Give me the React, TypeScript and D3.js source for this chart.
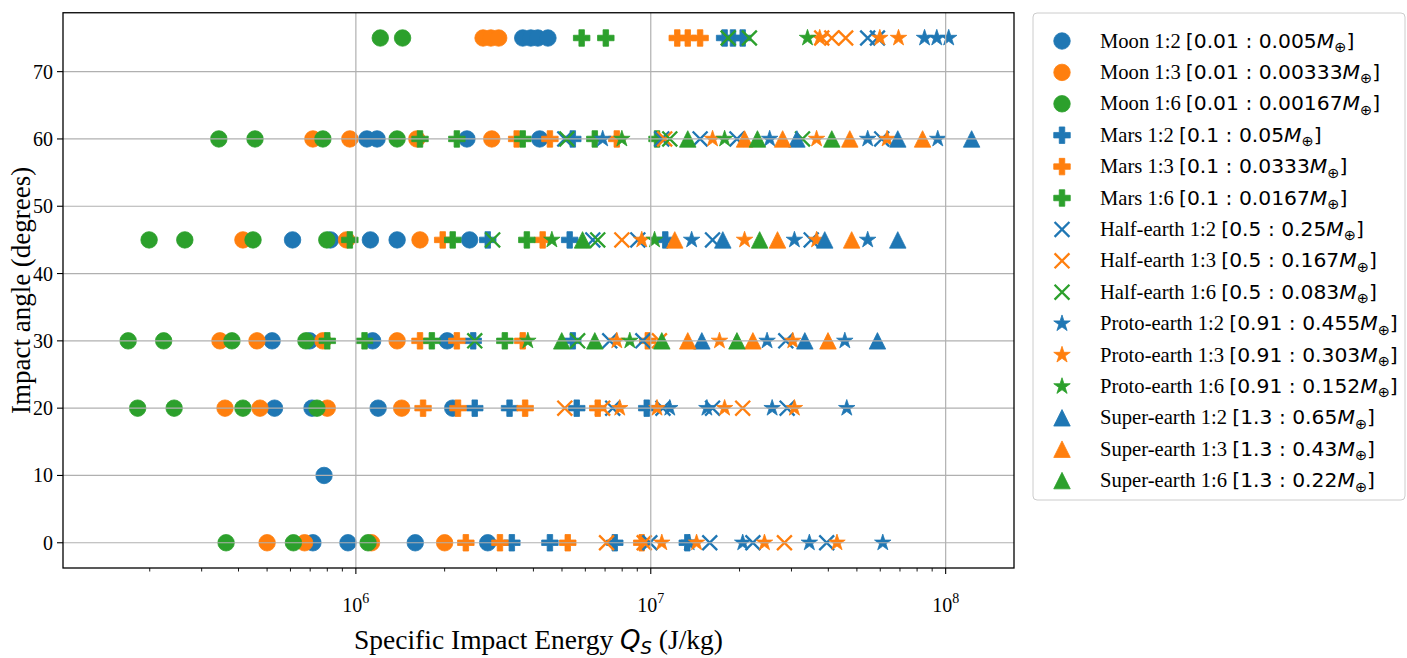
import React from "react";
import * as d3 from "d3";

const W = 1407;
const H = 658;
const frame = { left: 63, right: 1014, top: 12.75, bottom: 568 };

// Impact angle (degrees) and specific impact energy Q_S (J/kg) per run
const moon12: [number, number][] = [
  [0, 7.15e5], [0, 9.4e5], [0, 1.59e6], [0, 2.8e6],
  [10, 7.8e5],
  [20, 5.3e5], [20, 7.1e5], [20, 1.19e6], [20, 2.13e6],
  [30, 5.2e5], [30, 6.97e5], [30, 1.14e6], [30, 2.04e6],
  [45, 6.1e5], [45, 8.2e5], [45, 1.12e6], [45, 1.38e6], [45, 2.43e6],
  [60, 1.09e6], [60, 1.18e6], [60, 2.38e6], [60, 4.2e6],
  [75, 3.68e6], [75, 3.92e6], [75, 4.14e6], [75, 4.48e6],
];
const moon13: [number, number][] = [
  [0, 5.0e5], [0, 6.7e5], [0, 1.13e6], [0, 2.0e6],
  [20, 3.6e5], [20, 4.73e5], [20, 8.0e5], [20, 1.43e6],
  [30, 3.46e5], [30, 4.62e5], [30, 7.73e5], [30, 1.38e6],
  [45, 4.14e5], [45, 9.3e5], [45, 1.65e6],
  [60, 7.15e5], [60, 9.54e5], [60, 1.61e6], [60, 2.89e6],
  [75, 2.7e6], [75, 2.87e6], [75, 3.05e6],
];
const moon16: [number, number][] = [
  [0, 3.63e5], [0, 6.14e5], [0, 1.1e6],
  [20, 1.82e5], [20, 2.42e5], [20, 4.14e5], [20, 7.38e5],
  [30, 1.69e5], [30, 2.23e5], [30, 3.8e5], [30, 6.77e5],
  [45, 1.99e5], [45, 2.63e5], [45, 4.48e5], [45, 7.97e5],
  [60, 3.43e5], [60, 4.55e5], [60, 7.73e5], [60, 1.38e6],
  [75, 1.21e6], [75, 1.44e6],
];
const mars12: [number, number][] = [
  [0, 3.38e6], [0, 4.55e6], [0, 7.55e6], [0, 1.33e7],
  [20, 2.53e6], [20, 3.32e6], [20, 5.61e6], [20, 9.69e6],
  [30, 2.5e6], [30, 5.44e6],
  [45, 2.8e6], [45, 5.31e6], [45, 1.12e7],
  [60, 5.44e6],
  [75, 1.78e7], [75, 1.9e7], [75, 2.05e7],
];
const mars13: [number, number][] = [
  [0, 2.36e6], [0, 3.08e6], [0, 5.23e6], [0, 9.32e6],
  [20, 1.69e6], [20, 2.22e6], [20, 3.75e6], [20, 6.61e6],
  [30, 1.65e6], [30, 2.2e6], [30, 3.68e6], [30, 9.77e6],
  [45, 1.97e6], [45, 4.3e6],
  [60, 3.51e6], [60, 4.55e6], [60, 7.67e6],
  [75, 1.23e7], [75, 1.335e7], [75, 1.47e7],
];
const mars16: [number, number][] = [
  [30, 8.0e5], [30, 1.07e6], [30, 1.81e6], [30, 3.2e6],
  [45, 9.54e5], [45, 2.13e6], [45, 3.8e6],
  [60, 1.65e6], [60, 2.2e6], [60, 3.68e6], [60, 6.46e6], [60, 1.05e7],
  [75, 5.83e6], [75, 7.04e6],
];
const half12: [number, number][] = [
  [0, 9.93e6], [0, 1.585e7], [0, 2.22e7], [0, 3.95e7],
  [20, 7.43e6], [20, 1.1e7], [20, 1.62e7], [20, 2.9e7],
  [30, 7.26e6], [30, 9.4e6], [30, 2.87e7],
  [45, 6.36e6], [45, 9.04e6], [45, 1.62e7], [45, 3.5e7],
  [60, 5.11e6], [60, 1.09e7], [60, 1.47e7], [60, 1.96e7], [60, 6.07e7],
  [75, 5.44e7], [75, 5.87e7],
];
const half13: [number, number][] = [
  [0, 7.08e6], [0, 9.5e6], [0, 2.84e7],
  [20, 5.11e6], [20, 6.87e6], [20, 2.05e7],
  [30, 1.07e7],
  [45, 7.98e6],
  [60, 1.115e7],
  [75, 3.8e7], [75, 4.11e7], [75, 4.58e7],
];
const half16: [number, number][] = [
  [30, 2.53e6], [30, 5.65e6],
  [45, 2.91e6], [45, 6.61e6],
  [60, 5.19e6], [60, 1.16e7], [60, 3.27e7],
  [75, 1.83e7], [75, 2.16e7],
];
const proto12: [number, number][] = [
  [0, 1.35e7], [0, 2.05e7], [0, 3.45e7], [0, 6.12e7],
  [20, 1.16e7], [20, 1.55e7], [20, 2.58e7], [20, 4.62e7],
  [30, 2.48e7], [30, 4.55e7],
  [45, 1.376e7], [45, 3.07e7], [45, 5.44e7],
  [60, 6.87e6], [60, 2.53e7], [60, 5.44e7], [60, 9.4e7],
  [75, 8.48e7], [75, 9.33e7], [75, 1.024e8],
];
const proto13: [number, number][] = [
  [0, 1.09e7], [0, 1.43e7], [0, 2.43e7], [0, 4.28e7],
  [20, 7.85e6], [20, 1.05e7], [20, 1.78e7], [20, 3.07e7],
  [30, 7.67e6], [30, 1.71e7], [30, 3.03e7],
  [45, 9.32e6], [45, 2.08e7], [45, 3.65e7],
  [60, 1.62e7], [60, 3.65e7], [60, 6.33e7],
  [75, 3.74e7], [75, 5.98e7], [75, 6.92e7],
];
const proto16: [number, number][] = [
  [30, 3.83e6], [30, 8.49e6],
  [45, 4.62e6], [45, 1.03e7],
  [60, 7.98e6], [60, 1.78e7],
  [75, 3.4e7],
];
const super12: [number, number][] = [
  [30, 1.49e7], [30, 3.33e7], [30, 5.87e7],
  [45, 1.755e7], [45, 3.89e7], [45, 6.88e7],
  [60, 3.13e7], [60, 6.88e7], [60, 1.225e8],
];
const super13: [number, number][] = [
  [30, 1.335e7], [30, 2.22e7], [30, 3.99e7],
  [45, 1.206e7], [45, 2.69e7], [45, 4.8e7],
  [60, 2.08e7], [60, 2.8e7], [60, 4.73e7], [60, 8.35e7],
];
const super16: [number, number][] = [
  [30, 4.99e6], [30, 6.46e6], [30, 1.09e7], [30, 1.96e7],
  [45, 5.87e6], [45, 2.34e7],
  [60, 1.335e7], [60, 2.3e7], [60, 4.11e7],
];

const bodyNames = ["Moon", "Mars", "Half-earth", "Proto-earth", "Super-earth"];
const ratioNames = ["1:2", "1:3", "1:6"];
const targetMasses = ["0.01", "0.1", "0.5", "0.91", "1.3"];
const impactorMasses = [
  ["0.005", "0.00333", "0.00167"],
  ["0.05", "0.0333", "0.0167"],
  ["0.25", "0.167", "0.083"],
  ["0.455", "0.303", "0.152"],
  ["0.65", "0.43", "0.22"],
];
const runs = [
  [moon12, moon13, moon16],
  [mars12, mars13, mars16],
  [half12, half13, half16],
  [proto12, proto13, proto16],
  [super12, super13, super16],
];
const ratioColors = ["#1f77b4", "#ff7f0e", "#2ca02c"];
const bodyMarkers = ["circle", "plus", "x", "star", "triangle"];

const angleTicks = [0, 10, 20, 30, 40, 50, 60, 70];
const energyDecades = [6, 7, 8];

const x = d3.scaleLog().domain([1.016e5, 1.705e8]).range([frame.left, frame.right]);
const y = d3.scaleLinear().domain([-3.75, 78.75]).range([frame.bottom, frame.top]);

const MS = 16.5;

function markerPath(kind: string, s: number): string {
  const h = s / 2;
  if (kind === "circle") return d3.symbol(d3.symbolCircle, Math.PI * h * h)() as string;
  if (kind === "plus") return d3.symbol(d3.symbolCross, 5 * (s / 3) * (s / 3))() as string;
  if (kind === "x") return `M${-h * 0.9},${-h * 0.9}L${h * 0.9},${h * 0.9}M${-h * 0.9},${h * 0.9}L${h * 0.9},${-h * 0.9}`;
  if (kind === "triangle") return `M0,${-h}L${-h},${h}L${h},${h}Z`;
  // five-pointed star
  const pts: string[] = [];
  for (let i = 0; i < 10; i++) {
    const r = i % 2 === 0 ? h * 1.05 : h * 1.05 * 0.381966;
    const a = (i * Math.PI) / 5;
    pts.push(`${(r * Math.sin(a)).toFixed(2)},${(-r * Math.cos(a)).toFixed(2)}`);
  }
  return `M${pts.join("L")}Z`;
}

function Marker({ kind, color, cx, cy }: { kind: string; color: string; cx: number; cy: number }) {
  const d = markerPath(kind, MS);
  if (kind === "x") {
    return <path d={d} transform={`translate(${cx},${cy})`} fill="none" stroke={color} strokeWidth={2.3} />;
  }
  return <path d={d} transform={`translate(${cx},${cy})`} fill={color} stroke={color} strokeWidth={0.8} />;
}

const serif = "'Liberation Serif', 'Times New Roman', serif";
const mathFont = "'DejaVu Sans', sans-serif";

export default function App() {
  const minorTicks: number[] = [];
  for (let e = 5; e <= 8; e++) {
    for (let k = 2; k <= 9; k++) {
      const v = k * Math.pow(10, e);
      if (v > x.domain()[0] && v < x.domain()[1]) minorTicks.push(v);
    }
  }

  const series = bodyNames.flatMap((b, bi) =>
    ratioNames.map((r, ri) => ({
      body: b,
      ratio: r,
      marker: bodyMarkers[bi],
      color: ratioColors[ri],
      data: runs[bi][ri],
      target: targetMasses[bi],
      impactor: impactorMasses[bi][ri],
    }))
  );

  const legendX = 1033;
  const legendY = 13;
  const rowH = 31.4;

  return (
    <svg width={W} height={H} style={{ position: "absolute", left: 0, top: 0, background: "#fff" }}>
      <rect x={0} y={0} width={W} height={H} fill="#fff" />
      <g>
        {series.map((s, si) =>
          s.data.map((p, i) => (
            <Marker key={`${si}-${i}`} kind={s.marker} color={s.color} cx={x(p[1])} cy={y(p[0])} />
          ))
        )}
      </g>
      {/* grid */}
      <g stroke="#b0b0b0" strokeWidth={1.2}>
        {energyDecades.map((e) => (
          <line key={e} x1={x(Math.pow(10, e))} x2={x(Math.pow(10, e))} y1={frame.top} y2={frame.bottom} />
        ))}
        {angleTicks.map((t) => (
          <line key={t} x1={frame.left} x2={frame.right} y1={y(t)} y2={y(t)} />
        ))}
      </g>
      {/* frame */}
      <rect
        x={frame.left}
        y={frame.top}
        width={frame.right - frame.left}
        height={frame.bottom - frame.top}
        fill="none"
        stroke="#000"
        strokeWidth={1.3}
      />
      {/* ticks */}
      <g stroke="#000" strokeWidth={1.1}>
        {energyDecades.map((e) => (
          <line key={e} x1={x(Math.pow(10, e))} x2={x(Math.pow(10, e))} y1={frame.bottom} y2={frame.bottom + 6} />
        ))}
        {minorTicks.map((v) => (
          <line key={v} x1={x(v)} x2={x(v)} y1={frame.bottom} y2={frame.bottom + 3.5} strokeWidth={0.9} />
        ))}
        {angleTicks.map((t) => (
          <line key={t} x1={frame.left - 6} x2={frame.left} y1={y(t)} y2={y(t)} />
        ))}
      </g>
      <g fontFamily={serif} fontSize={20} fill="#000">
        {energyDecades.map((e) => (
          <text key={e} x={x(Math.pow(10, e))} y={frame.bottom + 44} textAnchor="middle">
            10<tspan dy={-9} fontSize={14}>{e}</tspan>
          </text>
        ))}
        {angleTicks.map((t) => (
          <text key={t} x={frame.left - 10} y={y(t) + 7} textAnchor="end">
            {t}
          </text>
        ))}
      </g>
      {/* axis labels */}
      <text
        x={(frame.left + frame.right) / 2}
        y={649}
        textAnchor="middle"
        fontFamily={serif}
        fontSize={27.5}
      >
        Specific Impact Energy{" "}
        <tspan fontFamily={mathFont} fontStyle="italic" fontSize={26}>Q</tspan>
        <tspan fontFamily={mathFont} fontStyle="italic" fontSize={18} dy={5}>S</tspan>
        <tspan dy={-5}> (J/kg)</tspan>
      </text>
      <text
        transform={`translate(30,${(frame.top + frame.bottom) / 2}) rotate(-90)`}
        textAnchor="middle"
        fontFamily={serif}
        fontSize={27}
      >
        Impact angle (degrees)
      </text>
      {/* legend */}
      <rect
        x={legendX}
        y={legendY}
        width={372}
        height={487}
        rx={4}
        fill="#fff"
        fillOpacity={0.8}
        stroke="#cccccc"
        strokeWidth={1}
      />
      {series.map((s, i) => {
        const cy = legendY + 28 + i * rowH;
        return (
          <g key={i}>
            <Marker kind={s.marker} color={s.color} cx={legendX + 29} cy={cy} />
            <text x={legendX + 67} y={cy + 6.5} fontFamily={serif} fontSize={20.6}>
              {s.body} {s.ratio}{" "}
              <tspan fontFamily={mathFont} fontSize={20.3}>[{s.target} : {s.impactor}</tspan>
              <tspan fontFamily={mathFont} fontSize={20.3} fontStyle="italic">M</tspan>
              <tspan fontFamily={mathFont} fontSize={14.5} dy={4.5}>⊕</tspan>
              <tspan fontFamily={mathFont} fontSize={20.3} dy={-4.5}>]</tspan>
            </text>
          </g>
        );
      })}
    </svg>
  );
}
